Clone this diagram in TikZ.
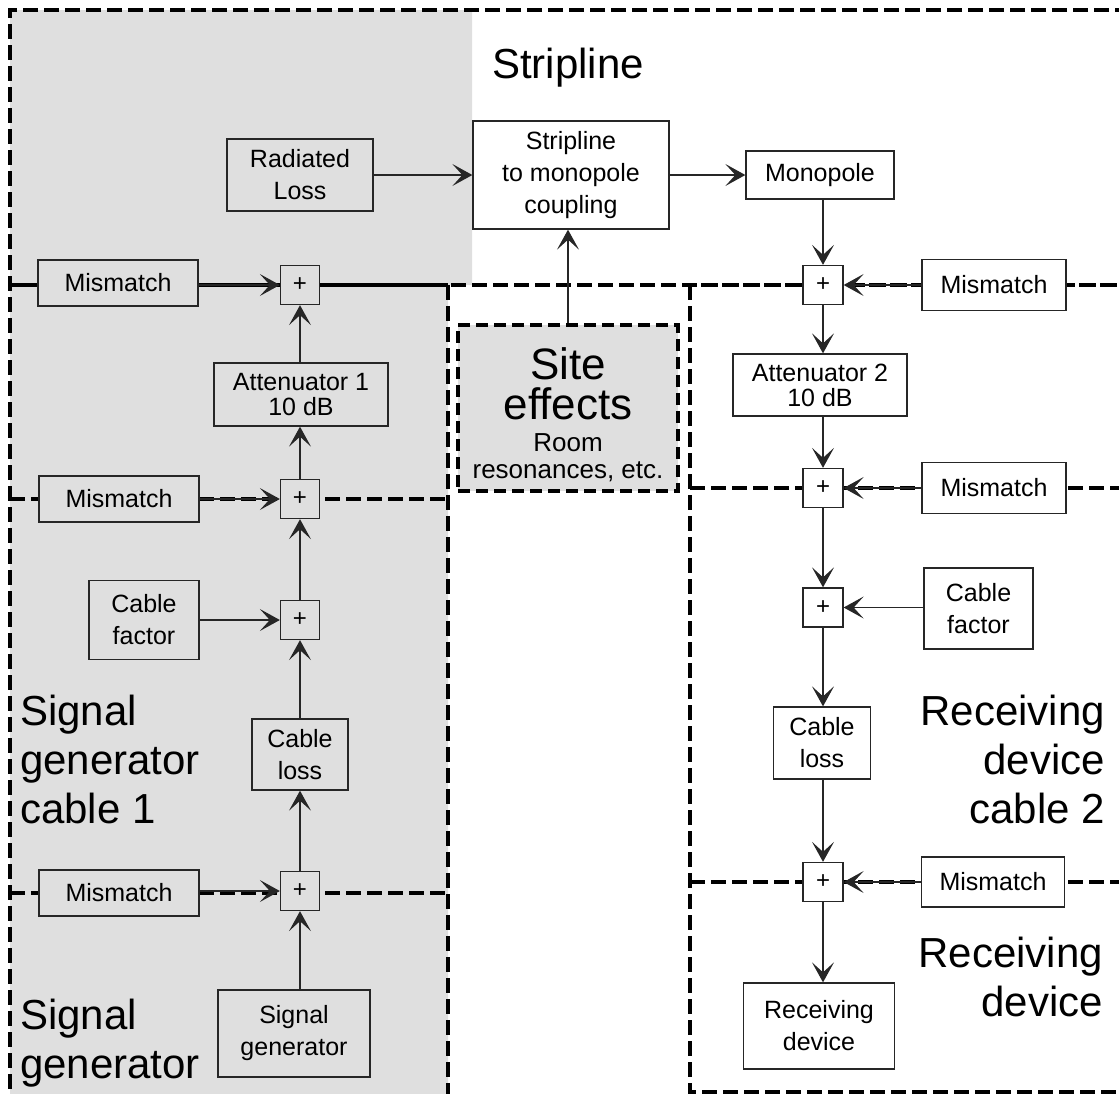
\documentclass[tikz,border=0pt]{standalone}
\usepackage{fontspec}
\setmainfont{Liberation Sans}
\usetikzlibrary{arrows.meta}
\definecolor{bg}{HTML}{DFDFDF}
\begin{document}
\begin{tikzpicture}[x=1pt,y=-1pt,
  region/.style={line width=4.5pt, dash pattern=on 15pt off 6pt},
  blk/.style={draw=black!85, line width=1.3pt, inner sep=0pt, align=center,
    font=\fontsize{25}{32}\selectfont},
  gbox/.style={blk, fill=bg},
  wbox/.style={blk, fill=white},
  plusg/.style={blk, fill=bg, minimum width=39pt, minimum height=39pt, font=\fontsize{24}{24}\selectfont},
  plusw/.style={blk, fill=white, minimum width=40pt, minimum height=39pt, font=\fontsize{24}{24}\selectfont},
  big/.style={inner sep=0pt, font=\fontsize{42}{49}\selectfont},
  conn/.style={line width=1.3pt, draw=black!85, -{Stealth[length=20pt,width=22pt,inset=10pt]}}]
\useasboundingbox (0,0) rectangle (1119,1093);
% grey background
\fill[bg] (10,10) -- (472,10) -- (472,285) -- (448,285) -- (448,1100) -- (10,1100) -- cycle;
% region borders
\begin{scope}
\clip (0,0) rectangle (1119,1093);
\draw[region] (1130,10) -- (10,10) -- (10,1100);
\draw[region] (10,285) -- (1130,285);
\draw[region, dash phase=10pt] (10,285) -- (448,285);
\draw[region, dash phase=10pt] (690,285) -- (1130,285);
\draw[region] (448,285) -- (448,1100);
\draw[region] (10,499) -- (448,499);
\draw[region] (10,893) -- (448,893);
\draw[region] (690,285) -- (690,1092) -- (1130,1092);
\draw[region] (690,488) -- (1130,488);
\draw[region] (690,882) -- (1130,882);
\end{scope}
% big labels
\node[big, anchor=base west] (lstrip) at (492,78) {Stripline};
\node[big, anchor=north west, align=left] (lsgc) at (20,695) {Signal\\generator\\cable 1};
\node[big, anchor=north west, align=left] (lsg) at (20,999) {Signal\\generator};
\node[big, anchor=north east, align=right] (lrdc) at (1105,695) {Receiving\\device\\cable 2};
\node[big, anchor=north east, align=right] (lrd) at (1103,937) {Receiving\\device};
% stripline blocks
\node[gbox, minimum width=146pt, minimum height=72pt] (rad) at (300,175) {Radiated\\Loss};
\node[wbox, minimum width=196pt, minimum height=108pt] (coup) at (571,175) {Stripline\\to monopole\\coupling};
\node[wbox, minimum width=148pt, minimum height=48pt] (mono) at (820,175) {Monopole};
% site effects
\node[fill=bg, draw=black, line width=3.5pt, dash pattern=on 12pt off 6pt, inner sep=0pt,
  minimum width=220pt, minimum height=166pt] (site) at (568,408) {};
\node[inner sep=0pt, align=center, font=\fontsize{44}{40}\selectfont]
  (sitetext) at ([yshift=-7pt]site.center) {Site\\effects\\[-8pt]{\fontsize{26}{26}\selectfont Room}\\[-13pt]{\fontsize{26}{26}\selectfont resonances, etc.}};
% left chain
\node[gbox, minimum width=160pt, minimum height=46pt] (misL1) at (118,283) {Mismatch};
\node[plusg] (pL1) at (300,285) {+};
\node[gbox, minimum width=174pt, minimum height=63pt, font=\fontsize{25}{25}\selectfont] (att1) at (301,394.5) {Attenuator 1\\10 dB};
\node[gbox, minimum width=160pt, minimum height=46pt] (misL2) at (119,499) {Mismatch};
\node[plusg] (pL2) at (300,499) {+};
\node[gbox, minimum width=110pt, minimum height=79pt] (cfL) at (144,620) {Cable\\factor};
\node[plusg] (pL3) at (300,620) {+};
\node[gbox, minimum width=96pt, minimum height=71pt] (clL) at (300,754.5) {Cable\\loss};
\node[gbox, minimum width=160pt, minimum height=46pt] (misL3) at (119,893) {Mismatch};
\node[plusg] (pL4) at (300,891) {+};
\node[gbox, minimum width=152pt, minimum height=87pt] (sg) at (294,1033.5) {Signal\\generator};
% right chain
\node[plusw] (pR1) at (823,285) {+};
\node[wbox, minimum width=144pt, minimum height=51pt] (misR1) at (994,285) {Mismatch};
\node[wbox, minimum width=174pt, minimum height=62pt, font=\fontsize{25}{25}\selectfont] (att2) at (820,385) {Attenuator 2\\10 dB};
\node[plusw] (pR2) at (823,488) {+};
\node[wbox, minimum width=144pt, minimum height=51pt] (misR2) at (994,488) {Mismatch};
\node[plusw] (pR3) at (823,607.5) {+};
\node[wbox, minimum width=109pt, minimum height=81pt] (cfR) at (978.5,608.5) {Cable\\factor};
\node[wbox, minimum width=97pt, minimum height=72pt] (clR) at (822,743) {Cable\\loss};
\node[plusw] (pR4) at (823,882) {+};
\node[wbox, minimum width=143pt, minimum height=50pt] (misR3) at (993,882) {Mismatch};
\node[wbox, minimum width=151pt, minimum height=86pt] (rd) at (819,1026) {Receiving\\device};
% connectors - stripline
\draw[conn] (rad) -- (coup);
\draw[conn] (coup) -- (mono);
\draw[conn] (site.north) -- (site.north |- coup.south);
% connectors - right
\draw[conn] (mono.south -| pR1) -- (pR1.north);
\draw[conn] (misR1) -- (pR1);
\draw[conn] (pR1.south) -- (pR1.south |- att2.north);
\draw[conn] (att2.south -| pR2) -- (pR2.north);
\draw[conn] (misR2) -- (pR2);
\draw[conn] (pR2) -- (pR3);
\draw[conn] (cfR.west |- pR3) -- (pR3.east);
\draw[conn] (pR3.south) -- (pR3.south |- clR.north);
\draw[conn] (clR.south -| pR4) -- (pR4.north);
\draw[conn] (misR3) -- (pR4);
\draw[conn] (pR4.south) -- (pR4.south |- rd.north);
% connectors - left
\draw[conn] (sg.north -| pL4) -- (pL4.south);
\draw[conn] (misL3.east |- pL4) -- (pL4.west);
\draw[conn] (pL4.north) -- (pL4.north |- clL.south);
\draw[conn] (clL.north -| pL3) -- (pL3.south);
\draw[conn] (cfL) -- (pL3);
\draw[conn] (pL3) -- (pL2);
\draw[conn] (misL2) -- (pL2);
\draw[conn] (pL2.north) -- (pL2.north |- att1.south);
\draw[conn] (att1.north -| pL1) -- (pL1.south);
\draw[conn] (misL1.east |- pL1) -- (pL1.west);
\end{tikzpicture}
\end{document}
